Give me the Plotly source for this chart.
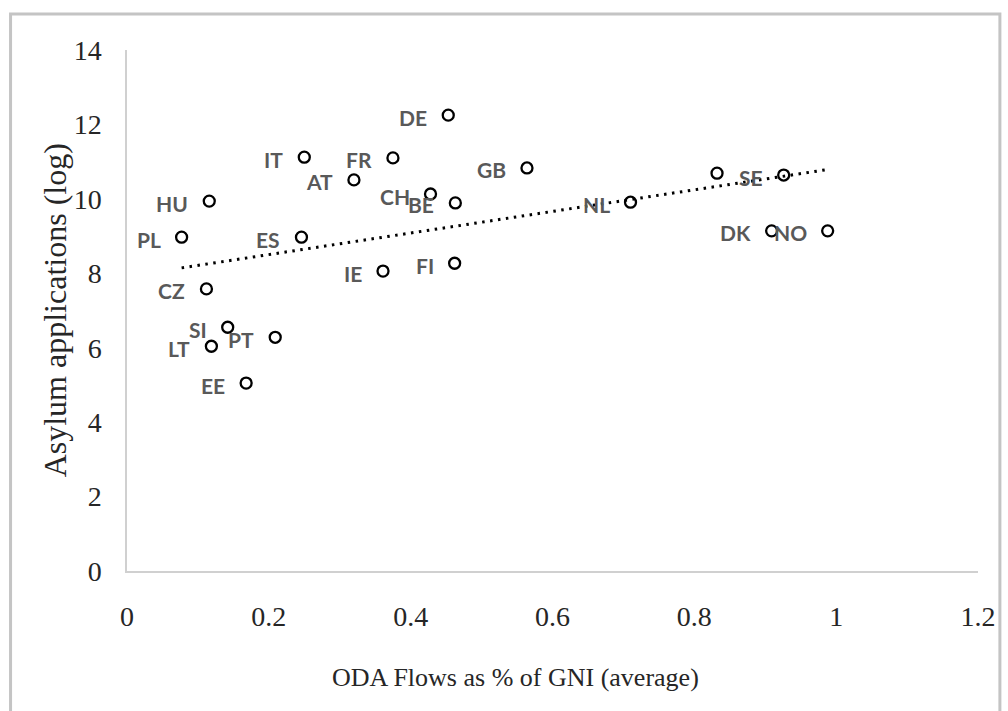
import numpy as np
import plotly.graph_objects as go

# ---- data ----
countries = ["DE", "FR", "IT", "AT", "GB", "CH", "BE", "NL", "", "SE", "DK",
             "NO", "HU", "PL", "ES", "IE", "FI", "CZ", "SI", "LT", "PT", "EE"]
oda_gni = [0.453, 0.375, 0.250, 0.320, 0.564, 0.428, 0.463, 0.710, 0.832, 0.926, 0.909,
           0.988, 0.116, 0.077, 0.246, 0.361, 0.462, 0.112, 0.142, 0.119, 0.209, 0.168]
asylum_log = [12.25, 11.10, 11.12, 10.51, 10.83, 10.13, 9.89, 9.91, 10.69, 10.64, 9.14,
              9.14, 9.94, 8.97, 8.97, 8.06, 8.27, 7.58, 6.55, 6.04, 6.28, 5.05]
x_ticks = [0, 0.2, 0.4, 0.6, 0.8, 1, 1.2]
y_ticks = [0, 2, 4, 6, 8, 10, 12, 14]

# linear trend line (least squares over all points)
slope, intercept = np.polyfit(oda_gni, asylum_log, 1)
trend_x = [min(oda_gni), max(oda_gni)]
trend_y = [slope * v + intercept for v in trend_x]

W, H = 1008, 711
ML, MR, MT, MB = 127, 26, 50, 140
PW, PH = W - ML - MR, H - MT - MB


def px_to_paper_x(px):
    return (px - ML) / PW


def px_to_paper_y(py):
    return (H - MB - py) / PH


fig = go.Figure()

fig.add_trace(go.Scatter(
    x=trend_x, y=trend_y, mode="lines",
    line=dict(color="black", width=3, dash="2.5px,5.5px"),
    hoverinfo="skip", showlegend=False,
))

fig.add_trace(go.Scatter(
    x=oda_gni, y=asylum_log, mode="markers",
    marker=dict(symbol="circle-open", size=11, color="black",
                line=dict(width=2.3, color="black")),
    showlegend=False,
))

annotations = []
for c, xv, yv in zip(countries, oda_gni, asylum_log):
    if not c:
        continue
    annotations.append(dict(
        x=xv, y=yv, xref="x", yref="y", text=c, showarrow=False,
        xanchor="right", yanchor="middle", xshift=-19, yshift=-2,
        font=dict(family="Lato", size=21, color="#595959", weight="bold"),
    ))

# axis titles
annotations.append(dict(
    x=px_to_paper_x(517), y=px_to_paper_y(677), xref="paper", yref="paper",
    text="ODA Flows as % of GNI (average)", showarrow=False,
    xanchor="center", yanchor="middle",
    font=dict(family="Liberation Serif", size=26, color="#262626"),
))
annotations.append(dict(
    x=px_to_paper_x(55), y=px_to_paper_y(310), xref="paper", yref="paper",
    text="Asylum applications (log)", showarrow=False, textangle=-90,
    xanchor="center", yanchor="middle",
    font=dict(family="Liberation Serif", size=32, color="#262626"),
))

tickfont = dict(family="Liberation Serif", size=28, color="#262626")

fig.update_layout(
    width=W, height=H,
    margin=dict(l=ML, r=MR, t=MT, b=MB, pad=0),
    paper_bgcolor="white", plot_bgcolor="white",
    annotations=annotations,
    shapes=[dict(
        type="rect", xref="paper", yref="paper",
        x0=px_to_paper_x(10), x1=px_to_paper_x(1004),
        y0=px_to_paper_y(740), y1=px_to_paper_y(14),
        line=dict(color="#c4c4c4", width=3), fillcolor="rgba(0,0,0,0)",
        layer="below",
    )],
    xaxis=dict(
        range=[0, 1.2], tickvals=x_ticks, ticktext=[f"{v:g}" for v in x_ticks],
        showgrid=False, zeroline=False, showline=True,
        linecolor="#d0d0d0", linewidth=1.5, ticks="",
        tickfont=tickfont, ticklabelstandoff=20,
    ),
    yaxis=dict(
        range=[0, 14], tickvals=y_ticks, ticktext=[str(v) for v in y_ticks],
        showgrid=False, zeroline=False, showline=True,
        linecolor="#d0d0d0", linewidth=1.5, ticks="",
        tickfont=tickfont, ticklabelstandoff=18,
    ),
)

fig.write_html(
    "out.html",
    config={"displayModeBar": False},
    post_script="document.body.style.margin='0';document.body.style.overflow='hidden';",
)
